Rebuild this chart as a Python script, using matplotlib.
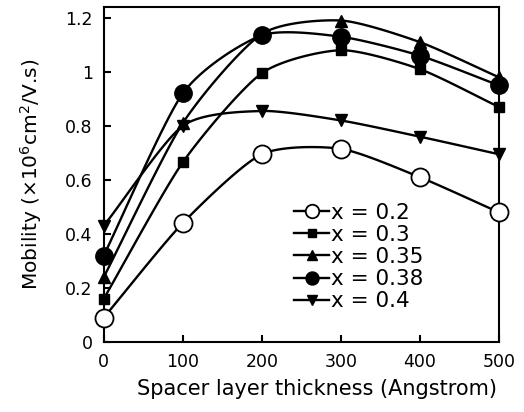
import matplotlib
matplotlib.use('Agg')
import matplotlib.pyplot as plt
from matplotlib.lines import Line2D
import numpy as np

plt.rcParams['font.family'] = ['DejaVu Sans']

thickness = [0, 100, 200, 300, 400, 500]
mob_02 = [0.09, 0.44, 0.695, 0.715, 0.61, 0.48]
mob_03 = [0.16, 0.665, 0.995, 1.08, 1.01, 0.87]
mob_035 = [0.24, 0.81, 1.14, 1.19, 1.11, 0.98]
mob_038 = [0.32, 0.92, 1.135, 1.13, 1.06, 0.95]
mob_04 = [0.43, 0.80, 0.855, 0.82, 0.76, 0.695]
labels = ['x = 0.2', 'x = 0.3', 'x = 0.35', 'x = 0.38', 'x = 0.4']


def smooth(xs, ys, n=20, tension=0.3):
    # cardinal spline through the points, only for drawing the line
    xs = np.asarray(xs, float)
    ys = np.asarray(ys, float)
    k = len(xs)

    def tangents(p):
        m = np.zeros(k)
        m[1:-1] = (p[2:] - p[:-2]) / 2
        m[0] = p[1] - p[0]
        m[-1] = p[-1] - p[-2]
        return (1 - tension) * m

    mx, my = tangents(xs), tangents(ys)
    t = np.linspace(0, 1, n, endpoint=False)
    h00 = 2 * t**3 - 3 * t**2 + 1
    h10 = t**3 - 2 * t**2 + t
    h01 = -2 * t**3 + 3 * t**2
    h11 = t**3 - t**2
    ox, oy = [], []
    for i in range(k - 1):
        ox.extend(h00 * xs[i] + h10 * mx[i] + h01 * xs[i + 1] + h11 * mx[i + 1])
        oy.extend(h00 * ys[i] + h10 * my[i] + h01 * ys[i + 1] + h11 * my[i + 1])
    ox.append(xs[-1])
    oy.append(ys[-1])
    return ox, oy


fig = plt.figure(figsize=(5.24, 4.12), dpi=100)
ax = fig.add_axes([0.198, 0.170, 0.754, 0.813])

series = [mob_02, mob_03, mob_035, mob_038, mob_04]
styles = [
    dict(marker='o', ms=13, mfc='white', mec='black', mew=1.3),
    dict(marker='s', ms=7, mfc='black', mec='black'),
    dict(marker='^', ms=9, mfc='black', mec='black'),
    dict(marker='o', ms=12.5, mfc='black', mec='black'),
    dict(marker='v', ms=9, mfc='black', mec='black'),
]
for ys, st in zip(series, styles):
    sx, sy = smooth(thickness, ys)
    ax.plot(sx, sy, color='black', lw=1.7, clip_on=False, zorder=2)
    ax.plot(thickness, ys, ls='none', clip_on=False, zorder=3, **st)

leg_handles = [Line2D([], [], color='black', lw=1.7, **st) for st in styles]
ax.legend(leg_handles, labels, loc='upper left', bbox_to_anchor=(0.455, 0.448),
          frameon=False, fontsize=15.5, handlelength=1.6, handletextpad=0.1,
          labelspacing=0.1, borderpad=0, markerscale=0.75)

ax.set_xlim(0, 500)
ax.set_ylim(0, 1.24)
ax.set_xticks(thickness)
ax.set_yticks([0, 0.2, 0.4, 0.6, 0.8, 1.0, 1.2])
ax.set_yticklabels(['0', '0.2', '0.4', '0.6', '0.8', '1', '1.2'])
ax.tick_params(direction='in', length=5, width=1.5, labelsize=12.5, pad=8,
               top=False, right=False)
for s in ax.spines.values():
    s.set_linewidth(1.5)
ax.set_xlabel('Spacer layer thickness (Angstrom)', fontsize=15)
ax.xaxis.set_label_coords(0.54, -0.11)
ax.set_ylabel('Mobility (\u00d710$^6$cm$^2$/V.s)', fontsize=14.5)
ax.yaxis.set_label_coords(-0.15, 0.5)

fig.savefig('out.png', dpi=100)
